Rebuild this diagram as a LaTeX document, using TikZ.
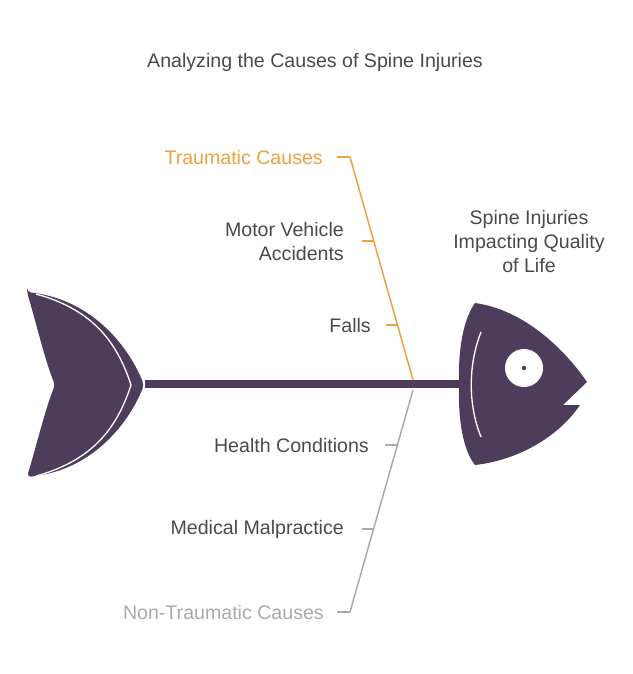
\documentclass[tikz,border=0pt]{standalone}
\usepackage{fontspec}
\setmainfont{Liberation Sans}
\usetikzlibrary{positioning}
\definecolor{fish}{HTML}{4E3D5A}
\definecolor{trauma}{HTML}{F0A040}
\definecolor{nontrauma}{HTML}{AAAAAA}
\definecolor{txt}{HTML}{4A4A4A}
\tikzset{
  lbl/.style={text=txt,font=\fontsize{19.6}{24}\selectfont,inner sep=0pt,align=right},
  bone/.style={line width=1.5pt},
  tick/.style={line width=1.5pt},
}
\begin{document}
\begin{tikzpicture}[x=1pt,y=-1pt]
        \useasboundingbox (0,0) rectangle (632,674);
        % tail
        \fill[fish,rounded corners=4pt] (27,292) .. controls (95,300) and (130,350) .. (144,385)
            .. controls (130,420) and (95,470) .. (27,477)
            .. controls (38,440) and (45,410) .. (55,385)
            .. controls (45,360) and (38,330) .. (27,292) -- cycle;
        \draw[white,line width=1.3pt] (36,294) .. controls (95,310) and (118,345) .. (131,385)
            .. controls (118,425) and (95,460) .. (36,476);
        % spine
        \coordinate (sL) at (145,384);
        \coordinate (sR) at (460,384);
        \draw[fish,line width=8pt] (sL) -- (sR);
        % head
        \fill[fish] (475,303) .. controls (525,310) and (565,350) .. (587,382)
            -- (563,405) -- (580,405)
            .. controls (560,435) and (520,460) .. (475,465)
            .. controls (463,450) and (458,420) .. (459,385)
            .. controls (458,350) and (463,320) .. (475,303) -- cycle;
        \draw[white,line width=1.3pt] (481,332) .. controls (468,365) and (468,405) .. (481,437);
        \fill[white] (524,368) circle (19);
        \fill[fish] (524,368) circle (2.2);
        % bones
        \coordinate (tTop) at (350,157);
        \coordinate (tBot) at (413,380);
        \coordinate (nTop) at (413,390);
        \coordinate (nBot) at (350,612);
        \draw[trauma,bone] (tTop) -- (tBot);
        \draw[nontrauma,bone] (nTop) -- (nBot);
        \draw[trauma,tick] (337,157) -- (tTop);
        \draw[trauma,tick] (362,241) -- (373.7,241);
        \draw[trauma,tick] (386,325) -- (397.5,325);
        \draw[nontrauma,tick] (385,445) -- (397.4,445);
        \draw[nontrauma,tick] (362,529) -- (373.6,529);
        \draw[nontrauma,tick] (337,612) -- (nBot);
        % texts
        \node[lbl] (title) at (315,62) {Analyzing the Causes of Spine Injuries};
        \node[lbl,align=center] (effect) at (529,241) {Spine Injuries\\Impacting Quality\\of Life};
        \node[lbl,anchor=east,text=trauma] (traumatic) at (323,157) {Traumatic Causes};
        \node[lbl,anchor=east] (motor) at (344,241) {Motor Vehicle\\Accidents};
        \node[lbl,anchor=east] (falls) at (371,325) {Falls};
        \node[lbl,anchor=east] (health) at (369,445) {Health Conditions};
        \node[lbl,anchor=east] (malpractice) at (344,529) {Medical Malpractice};
        \node[lbl,anchor=east,text=nontrauma] (nontraumatic) at (324,612) {Non-Traumatic Causes};
\end{tikzpicture}
\end{document}
